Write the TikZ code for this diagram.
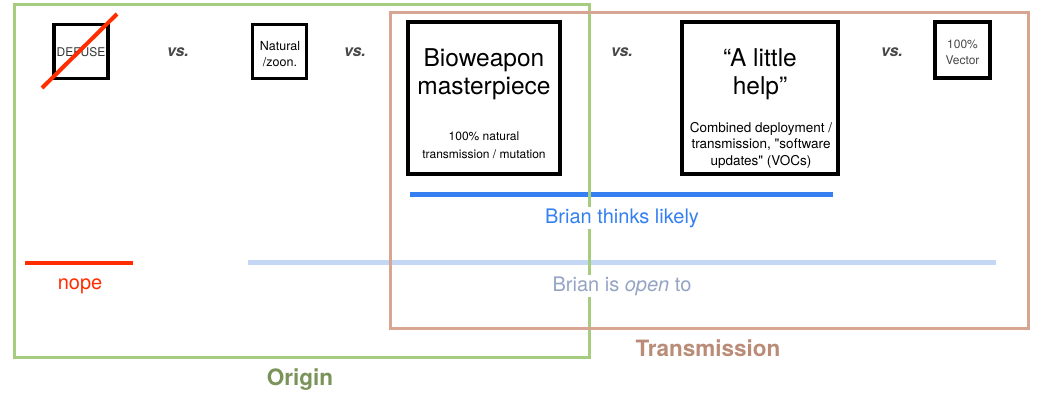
\documentclass[tikz,border=0pt]{standalone}
\usepackage{fontspec}
\setmainfont{TeX Gyre Heros}[Ligatures=TeXOff]
\usetikzlibrary{positioning}
\definecolor{origingreen}{RGB}{166,204,128}
\definecolor{origintext}{RGB}{122,147,88}
\definecolor{transbrown}{RGB}{214,166,146}
\definecolor{transtext}{RGB}{186,140,120}
\definecolor{nopered}{RGB}{255,45,0}
\definecolor{likelyblue}{RGB}{52,128,242}
\definecolor{openblue}{RGB}{196,216,246}
\definecolor{opentext}{RGB}{148,164,196}
\definecolor{vsgray}{RGB}{72,72,72}
\newcommand{\fs}[2]{\fontsize{#1}{#2}\selectfont}

\begin{document}
\begin{tikzpicture}[x=1pt,y=-1pt,
    optbox/.style={draw=black, line width=3.2pt, inner sep=0pt},
    vslabel/.style={text=vsgray, font=\fs{16}{19}\bfseries\itshape},
    barlabel/.style={fill=white, inner sep=2pt, font=\fs{20}{23}},
    grouplabel/.style={font=\fs{22.5}{26}\bfseries}]
    \useasboundingbox (0,0) rectangle (1045,403);
    % bars under everything
    \draw[likelyblue, line width=5pt] (410,195) coordinate (likelyL) -- (833,195) coordinate (likelyR);
    \draw[nopered, line width=4pt] (25,263) coordinate (nopeL) -- (133,263) coordinate (nopeR);
    \draw[openblue, line width=5pt] (248,263) coordinate (openL) -- (996,263) coordinate (openR);
    % the two groups
    \draw[origingreen, line width=3pt] (14,5) rectangle (589,358);
    \draw[transbrown, line width=3pt] (390,13) rectangle (1028,329);
    \node[grouplabel, text=origintext] (origin) at (300,380) {Origin};
    \node[grouplabel, text=transtext] (trans) at (708,348) {Transmission};
    % the options
    \node[optbox, minimum width=54pt, minimum height=54pt] (defuse) at (81,51.5) {};
    \node[font=\fs{12}{14}, text=black!80] (defusetxt) at (81,52) {DEFUSE};
    \draw[nopered, line width=4pt] (42,88) -- (117,14);
    \node[vslabel] (vs1) at (178,52) {vs.};
    \node[optbox, minimum width=54pt, minimum height=54pt] (natural) at (279.5,51.5) {};
    \node[font=\fs{12.5}{16}, align=center] (naturaltxt) at (280,54) {Natural\\/zoon.};
    \node[vslabel] (vs2) at (355,52) {vs.};
    \node[optbox, minimum width=152pt, minimum height=152pt] (bio) at (484,98) {};
    \node[font=\fs{24.5}{28}, align=center] (biotitle) at (484,74) {Bioweapon\\masterpiece};
    \node[font=\fs{12}{18}, align=center] (biosub) at (484,145) {100\% natural\\transmission / mutation};
    \node[vslabel] (vs3) at (622,52) {vs.};
    \node[optbox, minimum width=156pt, minimum height=152pt] (help) at (760,98) {};
    \node[font=\fs{24.5}{28}, align=center] (helptitle) at (760,74) {“A little\\help”};
    \node[font=\fs{13.5}{16.5}, align=center] (helpsub) at (761,145) {Combined deployment /\\transmission, "software\\updates" (VOCs)};
    \node[vslabel] (vs4) at (892,52) {vs.};
    \node[optbox, minimum width=55pt, minimum height=56pt] (vector) at (962.5,50) {};
    \node[font=\fs{12}{16}, align=center, text=black!72] (vectortxt) at (962.5,52) {100\%\\Vector};
    % what the bars mean
    \node[barlabel, text=likelyblue] (likely) at (622,218) {Brian thinks likely};
    \node[barlabel, text=nopered] (nope) at (80,286) {nope};
    \node[barlabel, text=opentext] (open) at (622,286) {Brian is \textit{open} to};
\end{tikzpicture}
\end{document}
